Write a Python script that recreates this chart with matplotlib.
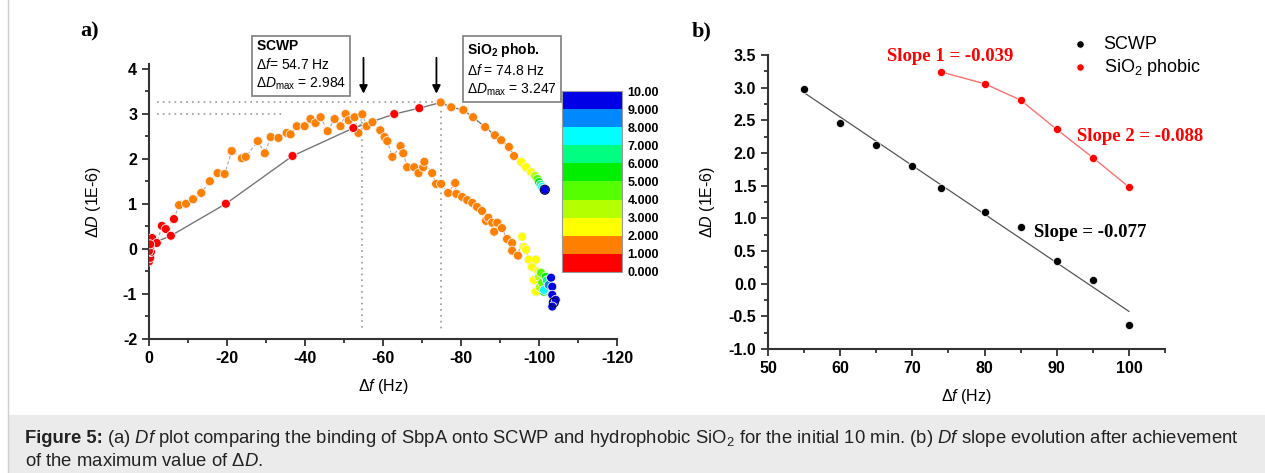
import matplotlib
matplotlib.use("Agg")
import matplotlib.pyplot as plt
import numpy as np
from matplotlib.colors import ListedColormap, BoundaryNorm
from matplotlib.cm import ScalarMappable
from matplotlib.patches import Rectangle
from matplotlib.lines import Line2D

plt.rcParams['font.family'] = ['Liberation Sans', 'DejaVu Sans']
plt.rcParams['mathtext.fontset'] = 'custom'
plt.rcParams['mathtext.rm'] = 'Liberation Sans'
plt.rcParams['mathtext.it'] = 'Liberation Sans:italic'
plt.rcParams['mathtext.bf'] = 'Liberation Sans:bold'
plt.rcParams['axes.unicode_minus'] = False

# ---- panel a : SCWP (delta f, delta D, time in min)
scwp_f = [0.0, -0.3, -0.5, -0.3, -0.6, -0.8, -2.0, -3.3, -4.3, -6.4,
          -7.7, -9.5, -11.3, -13.4, -15.6, -17.6, -19.4, -21.2, -23.8, -24.8,
          -27.9, -29.7, -31.2, -33.2, -35.3, -36.3, -37.9, -39.9, -41.4, -42.7,
          -44.0, -45.8, -47.6, -49.1, -50.4, -51.2, -52.7, -53.7, -54.7, -55.8,
          -57.3, -59.3, -60.4, -61.1, -62.4, -64.5, -65.2, -66.2, -68.0, -69.1,
          -70.3, -70.6, -72.6, -73.6, -74.9, -76.7, -78.5, -78.8, -80.3, -81.6,
          -82.9, -84.1, -85.4, -86.4, -87.0, -88.0, -88.5, -89.3, -90.5, -91.8,
          -93.1, -93.1, -94.6,
          -95.7, -96.2, -96.7, -97.4, -98.2, -99.2, -98.7, -99.2, -99.8,
          -100.0, -100.2, -100.5, -100.8, -101.7, -101.2, -102.0, -101.3, -102.5,
          -103.1, -103.4, -103.4, -103.8, -104.3, -103.4]
scwp_d = [-0.28, -0.20, -0.07, 0.05, 0.15, 0.24, 0.13, 0.51, 0.44, 0.66,
          0.97, 1.00, 1.10, 1.24, 1.50, 1.68, 1.66, 2.17, 2.01, 2.04,
          2.39, 2.12, 2.48, 2.46, 2.57, 2.54, 2.72, 2.72, 2.88, 2.79,
          2.92, 2.61, 2.88, 2.72, 2.99, 2.85, 2.92, 2.57, 2.984, 2.72,
          2.81, 2.63, 2.48, 2.39, 2.04, 2.28, 2.12, 1.81, 1.81, 1.68,
          1.81, 1.93, 1.68, 1.44, 1.44, 1.24, 1.46, 1.22, 1.15, 1.08,
          1.02, 0.93, 0.84, 0.62, 0.69, 0.58, 0.38, 0.58, 0.46, 0.22,
          0.13, -0.04, -0.15,
          0.27, 0.04, -0.02, -0.24, -0.40, -0.24, -0.69, -0.95, -0.50,
          -0.62, -0.85, -0.53, -0.75, -0.62, -0.95, -0.70, -0.91, -0.80,
          -0.64, -0.84, -1.02, -1.19, -1.13, -1.28]
scwp_t = [0.1, 0.15, 0.2, 0.25, 0.3, 0.35, 0.45, 0.55, 0.65, 0.85,
          1.0, 1.02, 1.04, 1.06, 1.08, 1.1, 1.12, 1.14, 1.16, 1.18,
          1.2, 1.22, 1.24, 1.26, 1.28, 1.3, 1.32, 1.34, 1.36, 1.38,
          1.4, 1.42, 1.44, 1.46, 1.48, 1.5, 1.52, 1.54, 1.56, 1.58,
          1.6, 1.62, 1.64, 1.66, 1.68, 1.7, 1.72, 1.74, 1.76, 1.78,
          1.8, 1.81, 1.82, 1.83, 1.84, 1.85, 1.86, 1.87, 1.88, 1.89,
          1.9, 1.91, 1.92, 1.93, 1.94, 1.95, 1.96, 1.97, 1.98, 1.985,
          1.99, 1.993, 1.996,
          2.2, 2.3, 2.4, 2.5, 2.6, 2.7, 2.8, 2.9, 2.95,
          3.3, 3.7, 4.3, 4.7, 5.3, 5.7, 6.5, 7.5, 8.5,
          9.1, 9.3, 9.5, 9.7, 9.8, 9.9]

# ---- panel a : SiO2 phob.
sio2_f = [0.0, -0.3, -5.6, -19.7, -36.8, -52.4, -62.9, -69.3, -74.8, -77.5,
          -80.6, -83.1, -86.2, -88.7, -90.3, -92.3, -93.6, -95.4, -96.7, -98.0,
          -99.0, -99.6, -100.0, -100.4, -100.8, -101.2, -101.5]
sio2_d = [-0.05, 0.10, 0.29, 1.00, 2.06, 2.68, 2.99, 3.12, 3.247, 3.14,
          3.08, 2.92, 2.70, 2.52, 2.41, 2.26, 2.06, 1.93, 1.81, 1.70,
          1.62, 1.55, 1.48, 1.42, 1.37, 1.33, 1.31]
sio2_t = [0.05, 0.1, 0.2, 0.35, 0.5, 0.65, 0.8, 0.95, 1.2, 1.4,
          1.6, 1.7, 1.8, 1.85, 1.9, 1.95, 1.98, 2.3, 2.6, 2.9,
          3.5, 4.5, 5.5, 6.5, 7.5, 8.5, 9.5]

band_colors = ['#ff0000', '#ff8000', '#ffff00', '#b4ff00', '#55ff00',
               '#00ee00', '#00ff80', '#00ffff', '#0088ff', '#0000e6']
cbar_labels = ['0.000', '1.000', '2.000', '3.000', '4.000', '5.000',
               '6.000', '7.000', '8.000', '9.000', '10.00']

# ---- panel b
b_scwp_f = [55, 60, 65, 70, 74, 80, 85, 90, 95, 100]
b_scwp_d = [2.98, 2.46, 2.13, 1.80, 1.47, 1.10, 0.86, 0.35, 0.05, -0.63]
b_sio2_f = [74, 80, 85, 90, 95, 100]
b_sio2_d = [3.24, 3.06, 2.81, 2.36, 1.93, 1.48]

W, H = 1265, 473
fig = plt.figure(figsize=(W / 100, H / 100), dpi=100)

def fx(px):
    return px / W

def fy(py):
    return 1 - py / H

# caption area and frame
fig.patches.append(Rectangle((fx(8), 0), 1, fy(415), transform=fig.transFigure,
                             facecolor='#ebebeb', edgecolor='none', zorder=0))
fig.lines.append(Line2D([fx(8), fx(8)], [0, 1], transform=fig.transFigure,
                        color='#cfcfcf', lw=1))

cmap = ListedColormap(band_colors)
norm = BoundaryNorm(np.arange(11), cmap.N)

def style_axes(ax):
    for s in ['top', 'right']:
        ax.spines[s].set_visible(False)
    for s in ['left', 'bottom']:
        ax.spines[s].set_linewidth(1.5)
        ax.spines[s].set_color('#333333')
    ax.tick_params(which='both', direction='out', color='#333333', width=1.3)
    ax.tick_params(which='major', length=5, labelsize=11.5)
    ax.tick_params(which='minor', length=3)
    for lab in ax.get_xticklabels() + ax.get_yticklabels():
        lab.set_fontweight('bold')

# ================= panel a
ax = fig.add_axes([fx(149), fy(339), fx(617 - 149), (339 - 64) / H])
ax.set_xlim(0, -120)
ax.set_ylim(-2, 4.1)
ax.set_xticks(np.arange(0, -121, -20))
ax.set_xticks(np.arange(0, -121, -10), minor=True)
ax.set_yticks(np.arange(-2, 5, 1))
ax.set_yticks(np.arange(-2, 4.1, 0.5), minor=True)
style_axes(ax)

# reference dotted lines
dot = dict(color='#999999', lw=1.2, ls=(0, (1, 2.5)), zorder=1)
ax.plot([-2, -74.8], [3.247, 3.247], **dot)
ax.plot([-2, -34], [2.984, 2.984], **dot)
ax.plot([-54.7, -54.7], [2.95, -1.75], **dot)
ax.plot([-74.8, -74.8], [3.2, -1.8], **dot)

ax.plot(scwp_f, scwp_d, color='#aaaaaa', lw=0.8, ls=(0, (3, 2)), zorder=2)
ax.plot(sio2_f, sio2_d, color='#777777', lw=1.0, zorder=2)
ax.scatter(scwp_f, scwp_d, c=scwp_t, cmap=cmap, norm=norm, s=42,
           edgecolors='#f2f2f2', linewidths=0.6, zorder=3)
ax.scatter(sio2_f, sio2_d, c=sio2_t, cmap=cmap, norm=norm, s=42,
           edgecolors='#f2f2f2', linewidths=0.6, zorder=4)
ax.scatter([scwp_f[-3], sio2_f[-1]], [scwp_d[-3], sio2_d[-1]], s=42,
           facecolors='none', edgecolors='#000033', linewidths=0.8, zorder=5)

for xa in [-55.0, -73.7]:
    ax.annotate('', xy=(xa, 3.38), xytext=(xa, 4.3), annotation_clip=False,
                arrowprops=dict(arrowstyle='-|>', color='black', lw=1.3,
                                mutation_scale=12))

box = dict(boxstyle='square,pad=0.3', facecolor='white', edgecolor='#888888', lw=1.3)
fig.text(fx(256), fy(39),
         r'$\mathbf{SCWP}$' + '\nΔ$\\mathit{f}$= 54.7 Hz\nΔ$\\mathit{D}_{\\mathrm{max}}$ = 2.984',
         fontsize=10, linespacing=1.3, va='top', ha='left', bbox=box)
fig.text(fx(467), fy(41),
         r'$\mathbf{SiO_2\ phob.}$' + '\nΔ$\\mathit{f}$ = 74.8 Hz\nΔ$\\mathit{D}_{\\mathrm{max}}$ = 3.247',
         fontsize=10, linespacing=1.3, va='top', ha='left', bbox=box)

ax.set_xlabel('Δ$\\mathit{f}$ (Hz)', fontsize=11.5, labelpad=8)
ax.set_ylabel('Δ$\\mathit{D}$ (1E-6)', fontsize=11.5, labelpad=14)

cax = fig.add_axes([fx(562), fy(272), fx(622 - 562), (272 - 91) / H])
cb = fig.colorbar(ScalarMappable(norm=norm, cmap=cmap), cax=cax, ticks=np.arange(11))
cb.ax.set_yticklabels(cbar_labels)
cb.ax.tick_params(length=0, labelsize=9, pad=4)
for lab in cb.ax.get_yticklabels():
    lab.set_fontweight('bold')
cb.outline.set_edgecolor('#999999')

fig.text(fx(80), fy(31), 'a)', fontsize=16, fontweight='bold',
         family='Liberation Serif', va='center')
fig.text(fx(692), fy(31), 'b)', fontsize=16, fontweight='bold',
         family='Liberation Serif', va='center')

# ================= panel b
bx = fig.add_axes([fx(768), fy(349), fx(1165 - 768), (349 - 55) / H])
bx.set_xlim(50, 105)
bx.set_ylim(-1.0, 3.5)
bx.set_xticks(np.arange(50, 101, 10))
bx.set_xticks(np.arange(50, 106, 5), minor=True)
bx.set_yticks(np.arange(-1.0, 3.51, 0.5))
bx.set_yticks(np.arange(-1.0, 3.51, 0.25), minor=True)
bx.yaxis.set_major_formatter(matplotlib.ticker.FormatStrFormatter('%.1f'))
style_axes(bx)

k, b0 = np.polyfit(b_scwp_f, b_scwp_d, 1)
xf = np.array([b_scwp_f[0], b_scwp_f[-1]])
bx.plot(xf, k * xf + b0, color='#555555', lw=0.9, zorder=2)
bx.plot(b_sio2_f, b_sio2_d, color='#ff7070', lw=1.0, zorder=2)
bx.scatter(b_scwp_f, b_scwp_d, color='black', s=34, edgecolors='white',
           linewidths=0.5, zorder=3, label='SCWP')
bx.scatter(b_sio2_f, b_sio2_d, color='#ff0000', s=34, edgecolors='white',
           linewidths=0.5, zorder=3, label='SiO$_2$ phobic')
bx.legend(loc='upper left', bbox_to_anchor=(0.70, 1.12), frameon=False,
          fontsize=13, handletextpad=0.3, labelspacing=0.2, markerscale=0.9)

bx.text(75.2, 3.47, 'Slope 1 = -0.039', color='#ff0000', fontsize=13.5,
        fontweight='bold', family='Liberation Serif', ha='center', va='center')
bx.text(101.5, 2.25, 'Slope 2 = -0.088', color='#ff0000', fontsize=13.5,
        fontweight='bold', family='Liberation Serif', ha='center', va='center')
bx.text(94.6, 0.78, 'Slope = -0.077', color='black', fontsize=13.5,
        fontweight='bold', family='Liberation Serif', ha='center', va='center')

bx.set_xlabel('Δ$\\mathit{f}$ (Hz)', fontsize=11.5, labelpad=8)
bx.set_ylabel('Δ$\\mathit{D}$ (1E-6)', fontsize=11.5, labelpad=8)

# caption: bold label, then the rest placed right after it
cap_size = 13.3
lead = fig.text(fx(25), fy(438), 'Figure 5:', fontsize=cap_size, fontweight='bold',
                va='center', ha='left', color='#222222')
renderer = fig.canvas.get_renderer()
bb = lead.get_window_extent(renderer=renderer)
x_after = bb.x1 / fig.bbox.width + fx(4)
fig.text(x_after, fy(438),
         r'(a) $\mathit{Df}$ plot comparing the binding of SbpA onto SCWP and '
         r'hydrophobic SiO$_2$ for the initial 10 min. (b) $\mathit{Df}$ slope evolution after achievement',
         fontsize=cap_size, va='center', ha='left', color='#222222')
fig.text(fx(25), fy(461), r'of the maximum value of Δ$\mathit{D}$.',
         fontsize=cap_size, va='center', ha='left', color='#222222')

fig.savefig('out.png', dpi=100)
